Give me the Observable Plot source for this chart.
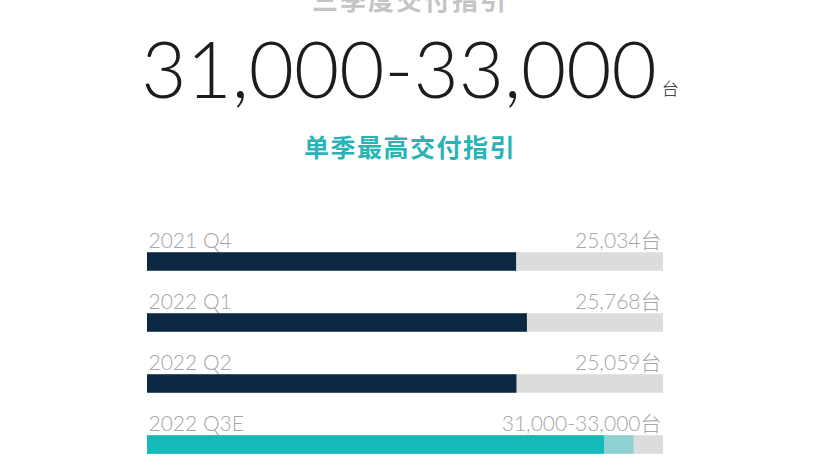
<!DOCTYPE html>
<html>
<head>
<meta charset="utf-8">
<script src="https://cdn.jsdelivr.net/npm/d3@7"></script>
<script src="https://cdn.jsdelivr.net/npm/@observablehq/plot@0.6"></script>
<style>
  html, body { margin: 0; padding: 0; background: #ffffff; }
  #wrap { width: 820px; height: 471px; overflow: hidden; position: relative; }
  #head { position: relative; width: 820px; height: 215px; }
  .line { position: absolute; left: 0; width: 820px; text-align: center; white-space: nowrap; line-height: 1; }
  #t1 { top: -14px; font-family: "Noto Sans CJK SC", sans-serif; font-weight: 700; font-size: 26px; color: #c4c4c4; letter-spacing: 2px; }
  #t2 { top: 29px; font-family: Lato, sans-serif; font-weight: 300; font-size: 78px; color: #1c1c1c; }
  #t2 .unit { font-family: "Noto Sans CJK SC", sans-serif; font-size: 17px; font-weight: 300; margin-left: 5px; color: #222; position: relative; top: -3px; }
  #t3 { top: 134px; font-family: "Noto Sans CJK SC", sans-serif; font-weight: 700; font-size: 25px; color: #2ab3b5; letter-spacing: 1.5px; }
  #chart svg { display: block; }
</style>
</head>
<body>
<div id="wrap">
  <div id="head">
    <div class="line" id="t1"></div>
    <div class="line" id="t2"></div>
    <div class="line" id="t3"></div>
  </div>
  <div id="chart"></div>
</div>
<script>
// ---- data ----
const headline = "三季度交付指引";
const subtitle = "单季最高交付指引";
const unit = "台";
const quarters = ["2021 Q4", "2022 Q1", "2022 Q2", "2022 Q3E"];
const deliveries = [25034, 25768, 25059, 31000];
const guidanceHigh = [null, null, null, 33000];
const isEstimate = [false, false, false, true];
const scaleMax = 35000;

// ---- build ----
const fmt = d3.format(",");
const rows = quarters.map((q, i) => ({
  quarter: q,
  value: deliveries[i],
  high: guidanceHigh[i],
  est: isEstimate[i],
  label: (guidanceHigh[i] ? `${fmt(deliveries[i])}-${fmt(guidanceHigh[i])}` : fmt(deliveries[i])) + unit
}));
const q3 = rows[rows.length - 1];

document.getElementById("t1").textContent = headline;
document.getElementById("t2").innerHTML = `${fmt(q3.value)}-${fmt(q3.high)}<span class="unit">${unit}</span>`;
document.getElementById("t3").textContent = subtitle;

const navy = "#0c2741";
const teal = "#14b9b9";
const lightTeal = "#8ed2d1";
const track = "#dcdcdc";
const labelGray = "#a6a6a6";
const inset = 6.25;

const chart = Plot.plot({
  width: 820,
  height: 256,
  marginLeft: 147,
  marginRight: 157,
  marginTop: 31.25,
  marginBottom: 11.25,
  x: { domain: [0, scaleMax], axis: null },
  y: { type: "band", domain: quarters, paddingInner: 0.5, paddingOuter: 0, axis: null },
  marks: [
    Plot.barX(rows, { x: () => scaleMax, y: "quarter", fill: track, insetTop: inset, insetBottom: inset }),
    Plot.barX(rows.filter(d => d.high), { x: "high", y: "quarter", fill: lightTeal, insetTop: inset, insetBottom: inset }),
    Plot.barX(rows.filter(d => !d.est), { x: "value", y: "quarter", fill: navy, insetTop: inset, insetBottom: inset }),
    Plot.barX(rows.filter(d => d.est), { x: "value", y: "quarter", fill: teal, insetTop: inset, insetBottom: inset }),
    Plot.text(rows, { y: "quarter", text: "quarter", frameAnchor: "left", textAnchor: "start", lineAnchor: "bottom", dy: -14.5, dx: 1, fill: labelGray, fontSize: 21, fontWeight: 300, fontFamily: "Lato, 'Noto Sans CJK SC', sans-serif" }),
    Plot.text(rows, { y: "quarter", text: "label", frameAnchor: "right", textAnchor: "end", lineAnchor: "bottom", dy: -14.5, dx: -2, fill: labelGray, fontSize: 21, fontWeight: 300, fontFamily: "Lato, 'Noto Sans CJK SC', sans-serif" })
  ]
});
document.getElementById("chart").appendChild(chart);
</script>
</body>
</html>
